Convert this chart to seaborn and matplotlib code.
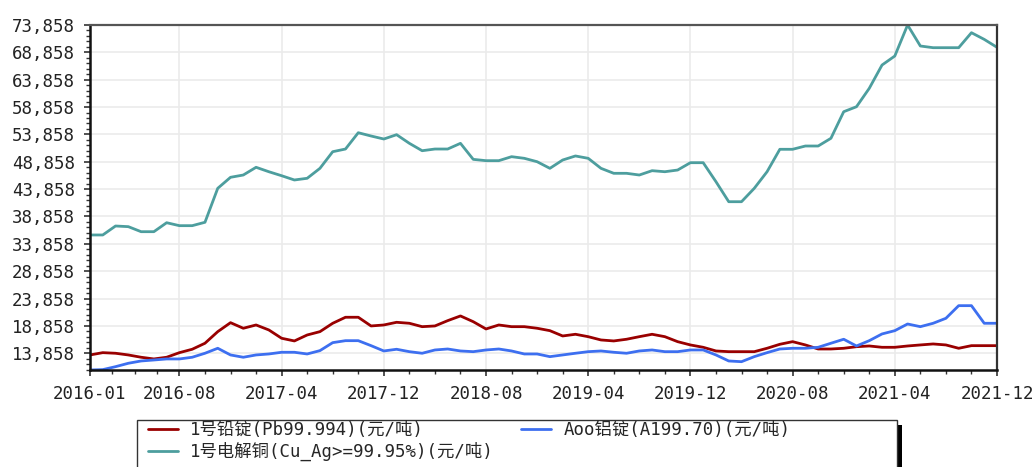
import matplotlib
matplotlib.use('Agg')
import matplotlib.pyplot as plt
import matplotlib.ticker as mticker
from matplotlib.patches import Rectangle
import seaborn as sns
import pandas as pd
import numpy as np

# monthly prices 2016-01 .. 2021-12 (元/吨)
months = [str(p) for p in pd.period_range('2016-01', '2021-12', freq='M')]
tick_labels = ['2016-01', '2016-08', '2017-04', '2017-12', '2018-08',
               '2019-04', '2019-12', '2020-08', '2021-04', '2021-12']

lead = [13550, 13970, 13860, 13550, 13130, 12820, 13130, 13970, 14590, 15690,
        17810, 19450, 18430, 19030, 18120, 16600, 16110, 17200, 17810, 19340,
        20440, 20440, 18850, 19030, 19520, 19340, 18720, 18850, 19820, 20680,
        19630, 18300, 19030, 18720, 18720, 18430, 17990, 17020, 17330, 16890,
        16290, 16110, 16420, 16890, 17330, 16890, 15980, 15380, 14950, 14280,
        14150, 14150, 14150, 14770, 15500, 15980, 15380, 14640, 14640, 14770,
        15060, 15190, 14950, 14950, 15190, 15380, 15560, 15380, 14770, 15250,
        15250, 15250]

copper = [35480, 35480, 37120, 37000, 36080, 36080, 37720, 37180, 37180, 37800,
          44010, 46020, 46440, 47850, 47040, 46310, 45530, 45840, 47660, 50700,
          51190, 54170, 53570, 53020, 53810, 52230, 50880, 51190, 51190, 52230,
          49300, 49060, 49060, 49790, 49490, 48870, 47660, 49180, 49920, 49490,
          47660, 46750, 46750, 46440, 47230, 47040, 47350, 48690, 48690, 45220,
          41560, 41560, 44010, 47040, 51140, 51140, 51740, 51740, 53150, 58010,
          58920, 62280, 66540, 68190, 73858, 70020, 69710, 69710, 69710, 72450,
          71230, 69780]

aluminum = [10800, 10870, 11410, 12030, 12450, 12630, 12820, 12820, 13130, 13860,
            14770, 13550, 13130, 13550, 13730, 14040, 14040, 13730, 14340, 15800,
            16160, 16160, 15250, 14280, 14590, 14150, 13860, 14460, 14640, 14280,
            14150, 14460, 14640, 14280, 13730, 13730, 13240, 13550, 13860, 14150,
            14280, 14040, 13860, 14280, 14460, 14150, 14150, 14460, 14460, 13550,
            12450, 12320, 13240, 13970, 14640, 14770, 14770, 14950, 15690, 16420,
            15190, 16160, 17390, 17990, 19210, 18720, 19340, 20250, 22560, 22560,
            19340, 19340]

names = ['1号铅锭(Pb99.994)(元/吨)', '1号电解铜(Cu_Ag>=99.95%)(元/吨)', 'Aoo铝锭(A199.70)(元/吨)']
colors = ['#990000', '#4d9e9e', '#3d6ff0']

sns.set_style('white')
plt.rcParams['font.family'] = ['DejaVu Sans Mono', 'Noto Sans CJK SC']
plt.rcParams['font.size'] = 12.5

df = pd.DataFrame({'月份': months, names[0]: lead, names[1]: copper, names[2]: aluminum})
df['idx'] = range(len(months))
long_df = df.melt(id_vars=['月份', 'idx'], var_name='品种', value_name='价格')

fig = plt.figure(figsize=(10.36, 4.67), dpi=100)
ax = fig.add_axes([90 / 1036, 1 - 370 / 467, 907 / 1036, 345 / 467])

sns.lineplot(data=long_df, x='idx', y='价格', hue='品种', hue_order=names,
             palette=colors, linewidth=2.0, ax=ax, legend=False)

# x axis
major = [months.index(t) for t in tick_labels]
minor = []
for a, b in zip(major[:-1], major[1:]):
    minor += list(np.linspace(a, b, 5)[1:-1])
ax.set_xticks(major)
ax.set_xticklabels(tick_labels)
ax.set_xticks(minor, minor=True)
ax.set_xlim(0, len(months) - 1)

# y axis
ax.set_ylim(10800, 73858)
ax.set_yticks(np.arange(13858, 73859, 5000))
ax.set_yticks(np.arange(10858, 73859, 1000), minor=True)
ax.yaxis.set_major_formatter(mticker.FuncFormatter(lambda v, p: f'{v:,.0f}'))

ax.set_xlabel('')
ax.set_ylabel('')
ax.grid(True, which='major', color='#ebebeb', linewidth=1.2)
ax.set_axisbelow(True)

ax.tick_params(axis='both', which='both', left=True, bottom=True, direction='out')
ax.tick_params(axis='both', which='major', length=4, width=1.2,
               color='#333333', labelcolor='#222222')
ax.tick_params(axis='both', which='minor', length=3, width=1.0, color='#333333')
ax.tick_params(axis='y', which='major', pad=7)
ax.tick_params(axis='x', which='major', pad=7)

for side in ['left', 'bottom']:
    ax.spines[side].set_color('#111111')
    ax.spines[side].set_linewidth(1.8)
ax.spines['top'].set_color('#555555')
ax.spines['top'].set_linewidth(1.6)
ax.spines['right'].set_color('#333333')
ax.spines['right'].set_linewidth(1.6)

# legend box below the plot, running off the bottom edge
fig.patches.append(Rectangle((897 / 1036, -0.1), 5 / 1036, 0.1 + 1 - 425 / 467,
                             transform=fig.transFigure, facecolor='black',
                             edgecolor='none', zorder=1))
fig.patches.append(Rectangle((137 / 1036, -0.1), 760 / 1036, 0.1 + 1 - 420 / 467,
                             transform=fig.transFigure, facecolor='white',
                             edgecolor='#333333', linewidth=1.0, zorder=2))

fig.legend(ax.lines[:3], names, loc='upper left', bbox_to_anchor=(148 / 1036, 1 - 421 / 467),
           ncols=2, frameon=False, borderpad=0, borderaxespad=0, handlelength=1.72,
           handletextpad=0.69, columnspacing=1.6, labelspacing=0.15, fontsize=12.5)

fig.savefig('out.png', dpi=100)
